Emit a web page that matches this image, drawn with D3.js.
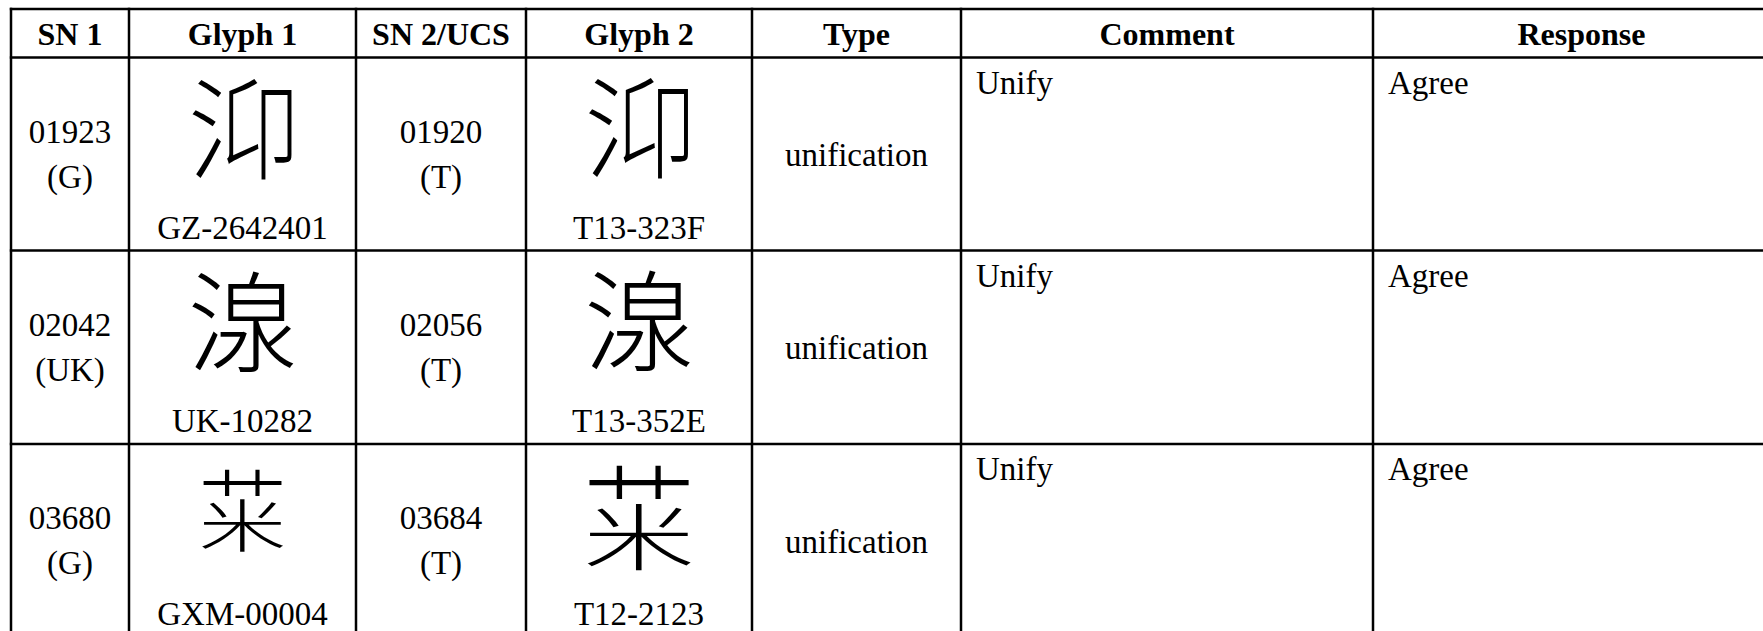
<!DOCTYPE html>
<html><head><meta charset="utf-8">
<script src="https://cdn.jsdelivr.net/npm/d3@7"></script>
<style>html,body{margin:0;padding:0;background:#fff;overflow:hidden}</style>
</head><body>
<svg id="c" width="1763" height="631"></svg>
<script>
// ---- data ----
const headers = ["SN 1", "Glyph 1", "SN 2/UCS", "Glyph 2", "Type", "Comment", "Response"];
const sn1 = ["01923", "02042", "03680"];
const sn1Source = ["(G)", "(UK)", "(G)"];
const glyph1Source = ["GZ-2642401", "UK-10282", "GXM-00004"];
const sn2 = ["01920", "02056", "03684"];
const sn2Source = ["(T)", "(T)", "(T)"];
const glyph2Source = ["T13-323F", "T13-352E", "T12-2123"];
const types = ["unification", "unification", "unification"];
const comments = ["Unify", "Unify", "Unify"];
const responses = ["Agree", "Agree", "Agree"];
// glyph compositions: [kind, component A, component B]
const glyph1Parts = [["lr", "江", "卬"], ["single", "湶"], ["tb", "苗", "米"]];
const glyph2Parts = [["lr", "江", "卬"], ["single", "湶"], ["tb", "苗", "米"]];

// ---- layout ----
const colEdges = [11, 129, 356, 526, 752, 961, 1373, 1790];
const rowEdges = [9, 57.5, 250.5, 444, 637.5];
const glyph1Size = [110, 110, 88];
const glyph2Size = [110, 110, 112];
const serif = "'Liberation Serif', 'Times New Roman', serif";
const cjk = "'Noto Sans CJK SC', 'Noto Sans CJK JP', sans-serif";

const svg = d3.select("#c");
const x = d3.scaleLinear().domain(d3.range(colEdges.length)).range(colEdges);
const y = d3.scaleLinear().domain(d3.range(rowEdges.length)).range(rowEdges);
const cx = i => (x(i) + x(i + 1)) / 2;

// grid lines
svg.append("g").selectAll("line").data(d3.range(rowEdges.length)).join("line")
  .attr("x1", x(0) - 1.2).attr("x2", x(colEdges.length - 1))
  .attr("y1", d => y(d)).attr("y2", d => y(d))
  .attr("stroke", "#000").attr("stroke-width", 2.5);
svg.append("g").selectAll("line").data(d3.range(colEdges.length)).join("line")
  .attr("y1", y(0) - 1.2).attr("y2", y(rowEdges.length - 1))
  .attr("x1", d => x(d)).attr("x2", d => x(d))
  .attr("stroke", "#000").attr("stroke-width", 2.5);

// header
svg.append("g").selectAll("text").data(headers).join("text")
  .attr("x", (d, i) => cx(i)).attr("y", y(0) + 36)
  .attr("text-anchor", "middle")
  .style("font-family", serif).style("font-weight", "bold").style("font-size", "32px")
  .text(d => d);

const body = svg.append("g").style("font-family", serif).style("font-size", "33px").attr("fill", "#000");

function twoLine(col, a, b) {
  body.append("g").selectAll("text").data(a).join("text")
    .attr("x", cx(col)).attr("y", (d, i) => y(i + 1) + 85)
    .attr("text-anchor", "middle").text(d => d);
  body.append("g").selectAll("text").data(b).join("text")
    .attr("x", cx(col)).attr("y", (d, i) => y(i + 1) + 130)
    .attr("text-anchor", "middle").text(d => d);
}
twoLine(0, sn1, sn1Source);
twoLine(2, sn2, sn2Source);

function labels(col, arr) {
  body.append("g").selectAll("text").data(arr).join("text")
    .attr("x", cx(col)).attr("y", (d, i) => y(i + 1) + 181)
    .attr("text-anchor", "middle").text(d => d);
}
labels(1, glyph1Source);
labels(3, glyph2Source);

body.append("g").selectAll("text").data(types).join("text")
  .attr("x", cx(4)).attr("y", (d, i) => (y(i + 1) + y(i + 2)) / 2 + 12)
  .attr("text-anchor", "middle").text(d => d);
body.append("g").selectAll("text").data(comments).join("text")
  .attr("x", x(5) + 15).attr("y", (d, i) => y(i + 1) + 36).text(d => d);
body.append("g").selectAll("text").data(responses).join("text")
  .attr("x", x(6) + 15).attr("y", (d, i) => y(i + 1) + 36).text(d => d);

// glyphs
let clipId = 0;
const defs = svg.append("defs");
function drawGlyph(parts, gx, gy, fs) {
  const g = svg.append("g").style("font-family", cjk).style("font-weight", 300)
    .style("font-size", fs + "px").attr("fill", "#000");
  const left = gx - fs / 2, top = gy - fs / 2, base = top + 0.88 * fs;
  const [kind, a, b] = parts;
  if (kind === "single") {
    g.append("text").attr("x", gx).attr("y", base).attr("text-anchor", "middle").text(a);
  } else if (kind === "lr") {
    const id = "clip" + (clipId++);
    defs.append("clipPath").attr("id", id).append("rect")
      .attr("x", left - 5).attr("y", top - 10).attr("width", 0.305 * fs + 5).attr("height", fs + 20);
    g.append("text").attr("x", left).attr("y", base).attr("clip-path", `url(#${id})`).text(a);
    g.append("text").attr("transform", `translate(${left + 0.29 * fs},0) scale(0.72,1)`)
      .attr("x", 0).attr("y", base).text(b);
  } else if (kind === "tb") {
    const id = "clip" + (clipId++);
    defs.append("clipPath").attr("id", id).append("rect")
      .attr("x", left - 10).attr("y", top - 10).attr("width", fs + 20).attr("height", 0.355 * fs + 10);
    g.append("text").attr("x", gx).attr("y", base).attr("text-anchor", "middle")
      .attr("clip-path", `url(#${id})`).text(a);
    g.append("text").attr("transform", `translate(0,${top + 0.36 * fs}) scale(1,0.64)`)
      .attr("x", gx).attr("y", 0.88 * fs).attr("text-anchor", "middle").text(b);
  }
}
glyph1Parts.forEach((p, i) => drawGlyph(p, cx(1), y(i + 1) + (i === 2 ? 66 : 72), glyph1Size[i]));
glyph2Parts.forEach((p, i) => drawGlyph(p, cx(3), y(i + 1) + (i === 2 ? 73 : 71), glyph2Size[i]));
</script>
</body></html>
